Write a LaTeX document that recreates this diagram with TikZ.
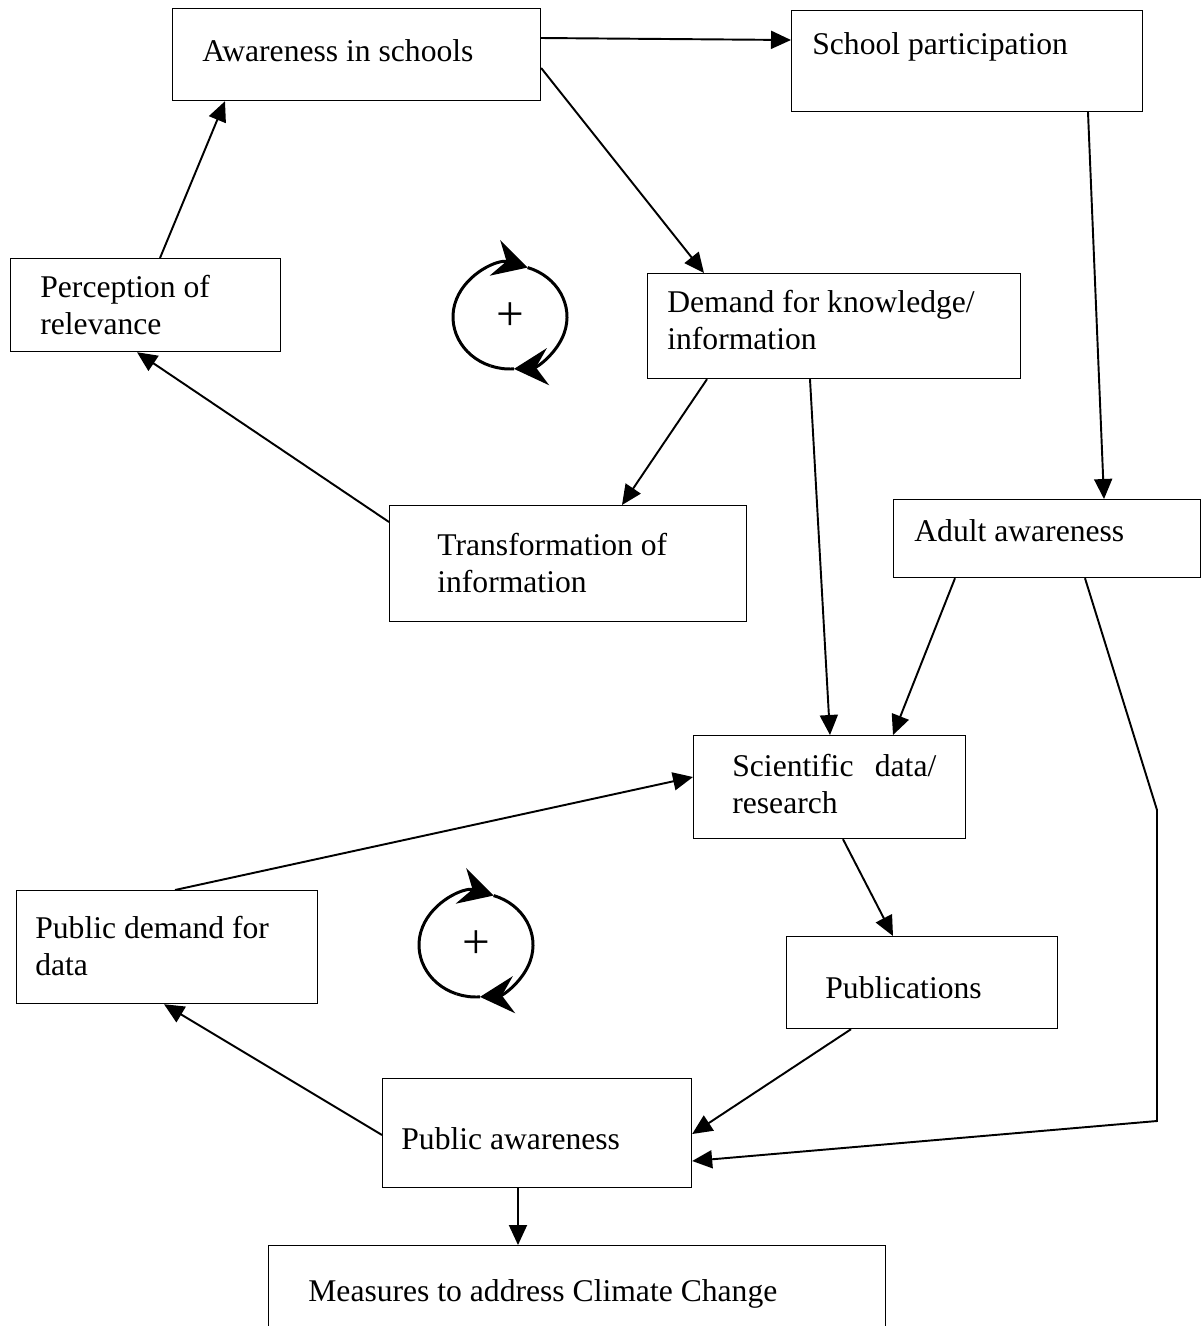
\documentclass[tikz,border=0pt]{standalone}
\usepackage{fontspec}
\setmainfont{Liberation Serif}
\usetikzlibrary{arrows.meta}

\tikzset{
  box/.style={draw, line width=0.7pt, inner sep=0pt, anchor=north west},
  lbl/.style={anchor=base west, inner sep=0pt, align=left,
    font=\fontsize{18}{20.5}\selectfont},
  link/.style={line width=1.1pt, -{Triangle[length=0.4cm,width=0.36cm]}},
  loopline/.style={line width=1.7pt, -{Stealth[length=0.68cm,width=0.74cm,inset=0.24cm]}}
}

\begin{document}
\begin{tikzpicture}[x=0.02cm, y=0.02cm]
    \useasboundingbox (0,0) rectangle (1201,-1326);

    % Boxes (top left corner at the layout position)
    \node[box, minimum width=7.36cm, minimum height=1.84cm] (aw) at (172,-8) {};
    \node[box, minimum width=7.02cm, minimum height=2.02cm] (sp) at (791,-10) {};
    \node[box, minimum width=5.40cm, minimum height=1.86cm] (pr) at (10,-258) {};
    \node[box, minimum width=7.46cm, minimum height=2.10cm] (dk) at (647,-273) {};
    \node[box, minimum width=7.14cm, minimum height=2.32cm] (ti) at (389,-505) {};
    \node[box, minimum width=6.14cm, minimum height=1.56cm] (aa) at (893,-499) {};
    \node[box, minimum width=5.44cm, minimum height=2.06cm] (sd) at (693,-735) {};
    \node[box, minimum width=6.02cm, minimum height=2.26cm] (pd) at (16,-890) {};
    \node[box, minimum width=5.42cm, minimum height=1.84cm] (pu) at (786,-936) {};
    \node[box, minimum width=6.18cm, minimum height=2.18cm] (pa) at (382,-1078) {};
    \node[box, minimum width=12.34cm, minimum height=1.90cm] (mc) at (268,-1245) {};

    % Texts (base = baseline of the last line)
    \node[lbl] (awt) at (202,-61) {Awareness in schools};
    \node[lbl] (spt) at (812,-54) {School participation};
    \node[lbl] (prt) at (40,-334) {Perception of\\relevance};
    \node[lbl] (dkt) at (667,-349) {Demand for knowledge/\\information};
    \node[lbl] (tit) at (437,-592) {Transformation of\\information};
    \node[lbl] (aat) at (914,-541) {Adult awareness};
    \node[lbl] (sdt) at (732,-813) {\makebox[4.08cm][s]{Scientific data/}\\research};
    \node[lbl] (pdt) at (35,-975) {Public demand for\\data};
    \node[lbl] (put) at (825,-998) {Publications};
    \node[lbl] (pat) at (401,-1149) {Public awareness};
    \node[lbl] (mct) at (308,-1301) {Measures to address Climate Change};

    % Reinforcing loops
    \coordinate (l1) at (510,-317);
    \coordinate (l2) at (476,-945);
    \foreach \c in {l1, l2} {
        \node[font=\fontsize{28}{28}\selectfont] at (\c) {+};
        \draw[loopline] ([shift={(250:57 and 52)}]\c) arc[start angle=250, end angle=72, x radius=57, y radius=52];
        \draw[loopline] ([shift={(72:57 and 52)}]\c) arc[start angle=72, end angle=-86, x radius=57, y radius=52];
        \draw[line width=1.7pt] ([shift={(-86:57 and 52)}]\c) arc[start angle=-86, end angle=-110, x radius=57, y radius=52];
    }

    % Bend points of the long connector
    \coordinate (k1) at (1157,-810);
    \coordinate (k2) at (1157,-1121);

    % Connectors
    \draw[link] (aw.east |- 0,-38) -- (sp.west |- 0,-40);
    \draw[link] (aw.east |- 0,-68) -- (dk.north -| 704,0);
    \draw[link] (sp.south -| 1088,0) -- (aa.north -| 1104,0);
    \draw[link] (pr.north -| 160,0) -- (aw.south -| 225,0);
    \draw[link] (dk.south -| 707,0) -- (ti.north -| 622,0);
    \draw[link] (ti.west |- 0,-522) -- (pr.south -| 137,0);
    \draw[link] (dk.south -| 810,0) -- (sd.north -| 830,0);
    \draw[link] (aa.south -| 955,0) -- (sd.north -| 893,0);
    \draw[link] (aa.south -| 1085,0) -- (k1) -- (k2) -- (pa.east |- 0,-1161);
    \draw[link] (sd.south -| 843,0) -- (pu.north -| 893,0);
    \draw[link] (pd.north -| 175,0) -- (sd.west |- 0,-777);
    \draw[link] (pu.south -| 851,0) -- (pa.east |- 0,-1134);
    \draw[link] (pa.west |- 0,-1135) -- (pd.south -| 164,0);
    \draw[link] (pa.south -| 518,0) -- (mc.north -| 518,0);
\end{tikzpicture}
\end{document}
